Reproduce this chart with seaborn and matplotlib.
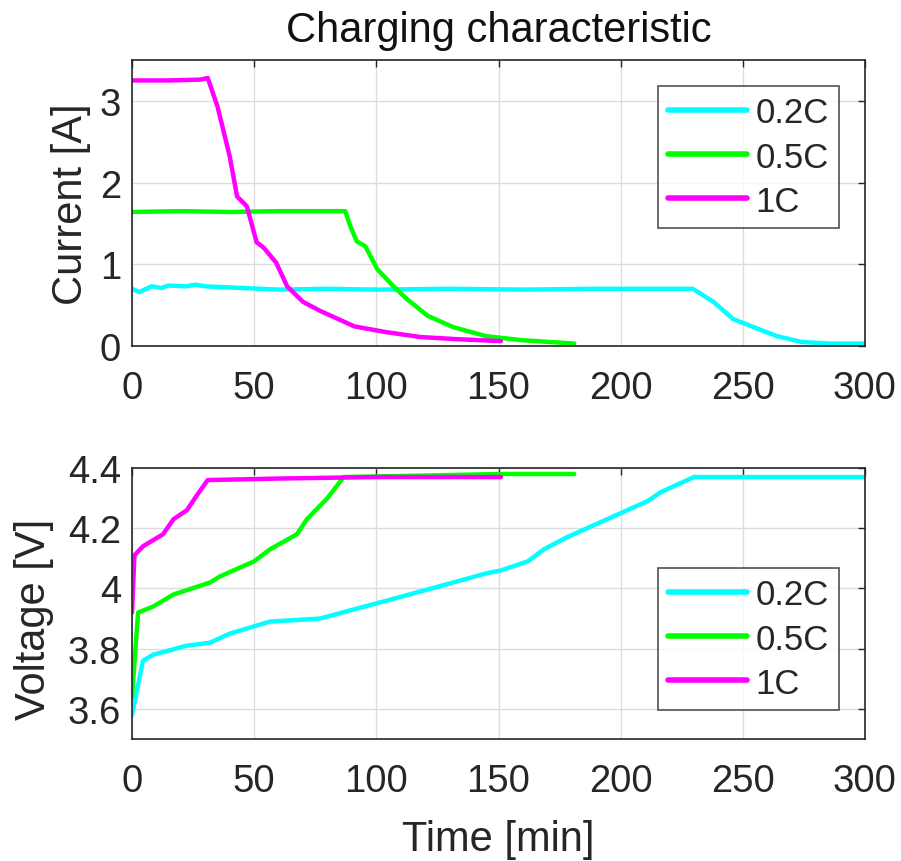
import matplotlib
matplotlib.use("Agg")
import matplotlib.pyplot as plt
import seaborn as sns
import pandas as pd

# ---- data ----
labels = ["0.2C", "0.5C", "1C"]
colors = ["#00FFFF", "#00FF00", "#FF00FF"]

# Current vs time
t_i_02 = [0, 3, 8, 12, 15, 22, 26, 30, 45, 60, 80, 100, 130, 160, 190, 215, 229.5, 238, 246, 254.5, 264, 274, 285, 300]
i_02   = [0.70, 0.66, 0.73, 0.71, 0.74, 0.73, 0.75, 0.73, 0.71, 0.69, 0.70, 0.69, 0.70, 0.69, 0.70, 0.70, 0.70, 0.54, 0.33, 0.23, 0.12, 0.05, 0.03, 0.03]

t_i_05 = [0, 20, 40, 60, 87.3, 89.3, 92, 95.5, 100.4, 107, 112.7, 121, 131.5, 145, 160, 181]
i_05   = [1.64, 1.65, 1.64, 1.65, 1.65, 1.47, 1.28, 1.22, 0.94, 0.73, 0.57, 0.37, 0.23, 0.12, 0.07, 0.03]

t_i_1 = [0, 15, 28, 31, 35, 40, 43, 47, 51, 54, 59, 63.5, 70, 77, 91, 104, 118, 132, 151]
i_1   = [3.25, 3.25, 3.26, 3.28, 2.93, 2.32, 1.83, 1.71, 1.27, 1.20, 1.02, 0.73, 0.54, 0.43, 0.24, 0.17, 0.11, 0.085, 0.06]

# Voltage vs time
t_v_02 = [0, 4.5, 8.7, 22.5, 32, 40, 56.5, 77, 90.6, 104.5, 118, 131.6, 145, 151, 162, 168.6, 178, 189, 200, 211, 216.5, 230, 260, 300]
v_02   = [3.58, 3.76, 3.78, 3.81, 3.82, 3.85, 3.89, 3.90, 3.93, 3.96, 3.99, 4.02, 4.05, 4.06, 4.09, 4.13, 4.17, 4.21, 4.25, 4.29, 4.32, 4.37, 4.37, 4.37]

t_v_05 = [0, 2.5, 8.7, 17, 32, 36, 50, 56.5, 67.5, 71.6, 80, 86.6, 120, 150, 181]
v_05   = [3.64, 3.92, 3.94, 3.98, 4.02, 4.04, 4.09, 4.13, 4.18, 4.23, 4.30, 4.37, 4.375, 4.38, 4.38]

t_v_1 = [0, 1, 4.5, 12.7, 17, 22.5, 26.6, 31, 60, 100, 151]
v_1   = [3.92, 4.11, 4.14, 4.18, 4.23, 4.26, 4.31, 4.36, 4.365, 4.37, 4.37]

# ---- tidy frames ----
cur = pd.concat([
    pd.DataFrame({"t": t_i_02, "y": i_02, "rate": labels[0]}),
    pd.DataFrame({"t": t_i_05, "y": i_05, "rate": labels[1]}),
    pd.DataFrame({"t": t_i_1, "y": i_1, "rate": labels[2]}),
])
vol = pd.concat([
    pd.DataFrame({"t": t_v_02, "y": v_02, "rate": labels[0]}),
    pd.DataFrame({"t": t_v_05, "y": v_05, "rate": labels[1]}),
    pd.DataFrame({"t": t_v_1, "y": v_1, "rate": labels[2]}),
])

sns.set_theme(style="white")
plt.rcParams["font.family"] = ["Liberation Sans", "DejaVu Sans"]
FS = 27.5
LFS = 30
TXT = "#262626"

fig = plt.figure(figsize=(9.01, 8.62), dpi=100)
ax1 = fig.add_axes([132/901, 1-347/862, 733/901, 286/862])
ax2 = fig.add_axes([132/901, 1-740/862, 733/901, 271/862])

palette = dict(zip(labels, colors))
for ax, df in ((ax1, cur), (ax2, vol)):
    sns.lineplot(data=df, x="t", y="y", hue="rate", palette=palette,
                 hue_order=labels, linewidth=3.2, ax=ax, sort=False,
                 estimator=None)
    ax.set_xlim(0, 300)
    ax.set_xticks([0, 50, 100, 150, 200, 250, 300])
    ax.grid(True, color="#DCDCDC", linewidth=1)
    ax.set_axisbelow(True)
    for sp in ax.spines.values():
        sp.set_color(TXT)
        sp.set_linewidth(1.2)
    ax.tick_params(direction="in", length=5, width=1, color=TXT,
                   top=True, right=True, labelsize=FS, labelcolor=TXT,
                   pad=8)
    ax.tick_params(axis="x", pad=17)
    leg = ax.legend(fontsize=25, frameon=True, fancybox=False,
                    edgecolor=TXT, handlelength=2.28, handletextpad=0.23,
                    borderpad=0.3, labelspacing=0.32, borderaxespad=0)
    leg.get_frame().set_linewidth(1.2)
    for h in leg.get_lines():
        h.set_linewidth(4)
    for tx in leg.get_texts():
        tx.set_color(TXT)

ax1.set_ylim(0, 3.5)
ax1.set_yticks([0, 1, 2, 3])
ax1.set_xlabel("")
ax1.set_ylabel("Current [A]", fontsize=LFS, color=TXT, labelpad=6)
ax1.set_title("Charging characteristic", fontsize=LFS, color="#111111", pad=14)
ax1.legend_.set_bbox_to_anchor((839/901, 1-87/862), transform=fig.transFigure)
ax1.legend_._loc = 1

ax2.set_ylim(3.5, 4.4)
ax2.set_yticks([3.6, 3.8, 4.0, 4.2, 4.4])
ax2.set_yticklabels(["3.6", "3.8", "4", "4.2", "4.4"])
ax2.set_xlabel("Time [min]", fontsize=LFS, color=TXT, labelpad=15)
ax2.set_ylabel("Voltage [V]", fontsize=LFS, color=TXT)
ax2.yaxis.set_label_coords(-0.107, 0.446)
ax2.legend_.set_bbox_to_anchor((839/901, 1-569/862), transform=fig.transFigure)
ax2.legend_._loc = 1

fig.savefig("out.png", dpi=100, facecolor="white")
